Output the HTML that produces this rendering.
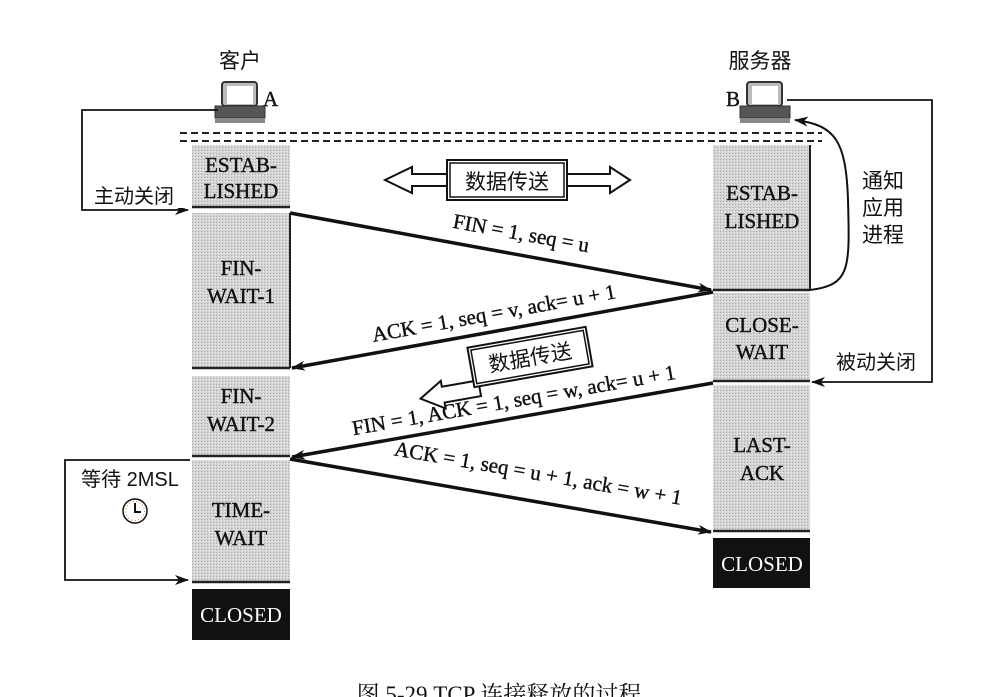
<!DOCTYPE html>
<html><head><meta charset="utf-8"><style>
html,body{margin:0;padding:0;background:#fff;}
svg{display:block}
text{font-family:"Liberation Serif","Noto Serif CJK SC",serif;fill:#111}
.cj{font-family:"Liberation Sans","Noto Sans CJK SC",sans-serif}
.b{stroke:#111;stroke-width:0.4}
</style></head><body>
<svg width="999" height="697" viewBox="0 0 999 697" xmlns="http://www.w3.org/2000/svg">
<defs>
<pattern id="g" width="3" height="3" patternUnits="userSpaceOnUse"><rect width="3" height="3" fill="#d4d4d4"/><rect width="1" height="1" fill="#aaa"/><rect x="2" y="1" width="1" height="1" fill="#eee"/></pattern>
<marker id="ah" markerWidth="14" markerHeight="10" refX="13" refY="5" orient="auto" markerUnits="userSpaceOnUse"><path d="M0,0 L14,5 L0,10 L4,5z" fill="#111"/></marker>
</defs>
<text x="240" y="68" font-size="21" text-anchor="middle" class="cj">客户</text>
<text x="760" y="68" font-size="21" text-anchor="middle" class="cj">服务器</text>
<g>
<rect x="222" y="82" width="35" height="24" rx="3" fill="#bbb" stroke="#333" stroke-width="2"/>
<rect x="227" y="86" width="26" height="18" fill="#fff"/>
<rect x="215" y="106" width="50" height="12" fill="#555" stroke="#333"/>
<rect x="215" y="118" width="50" height="5" fill="#888"/>
<text x="263" y="106" font-size="21" class="b">A</text>
</g>
<g>
<rect x="747" y="82" width="35" height="24" rx="3" fill="#bbb" stroke="#333" stroke-width="2"/>
<rect x="752" y="86" width="26" height="18" fill="#fff"/>
<rect x="740" y="106" width="50" height="12" fill="#555" stroke="#333"/>
<rect x="740" y="118" width="50" height="5" fill="#888"/>
<text x="726" y="106" font-size="21" class="b">B</text>
</g>
<line x1="180" y1="133" x2="822" y2="133" stroke="#222" stroke-width="2" stroke-dasharray="7,4"/>
<line x1="180" y1="141" x2="822" y2="141" stroke="#222" stroke-width="2" stroke-dasharray="7,4"/>
<rect x="192" y="145" width="98" height="62" fill="url(#g)"/>
<line x1="192" y1="207" x2="290" y2="207" stroke="#222" stroke-width="2.5"/>
<rect x="192" y="213" width="98" height="155" fill="url(#g)"/>
<line x1="290" y1="213" x2="290" y2="368" stroke="#222" stroke-width="2"/>
<line x1="192" y1="368" x2="290" y2="368" stroke="#222" stroke-width="2.5"/>
<rect x="192" y="376" width="98" height="80" fill="url(#g)"/>
<line x1="192" y1="456" x2="290" y2="456" stroke="#222" stroke-width="2.5"/>
<rect x="192" y="460" width="98" height="122" fill="url(#g)"/>
<line x1="192" y1="582" x2="290" y2="582" stroke="#222" stroke-width="2.5"/>
<rect x="192" y="589" width="98" height="51" fill="#111"/>
<text x="241" y="172" font-size="21" text-anchor="middle" class="b">ESTAB-</text>
<text x="241" y="198" font-size="21" text-anchor="middle" class="b">LISHED</text>
<text x="241" y="275" font-size="21" text-anchor="middle" class="b">FIN-</text>
<text x="241" y="303" font-size="21" text-anchor="middle" class="b">WAIT-1</text>
<text x="241" y="403" font-size="21" text-anchor="middle" class="b">FIN-</text>
<text x="241" y="431" font-size="21" text-anchor="middle" class="b">WAIT-2</text>
<text x="241" y="517" font-size="21" text-anchor="middle" class="b">TIME-</text>
<text x="241" y="545" font-size="21" text-anchor="middle" class="b">WAIT</text>
<text x="241" y="622" font-size="21" text-anchor="middle" style="fill:#fff">CLOSED</text>
<rect x="713" y="145" width="97" height="145" fill="url(#g)"/>
<line x1="810" y1="145" x2="810" y2="290" stroke="#222" stroke-width="2"/>
<line x1="713" y1="290" x2="810" y2="290" stroke="#222" stroke-width="2.5"/>
<rect x="713" y="293" width="97" height="87" fill="url(#g)"/>
<line x1="713" y1="381" x2="810" y2="381" stroke="#222" stroke-width="2.5"/>
<rect x="713" y="385" width="97" height="145" fill="url(#g)"/>
<line x1="713" y1="531" x2="810" y2="531" stroke="#222" stroke-width="2.5"/>
<rect x="713" y="538" width="97" height="50" fill="#111"/>
<text x="762" y="200" font-size="21" text-anchor="middle" class="b">ESTAB-</text>
<text x="762" y="228" font-size="21" text-anchor="middle" class="b">LISHED</text>
<text x="762" y="332" font-size="21" text-anchor="middle" class="b">CLOSE-</text>
<text x="762" y="359" font-size="21" text-anchor="middle" class="b">WAIT</text>
<text x="762" y="452" font-size="21" text-anchor="middle" class="b">LAST-</text>
<text x="762" y="480" font-size="21" text-anchor="middle" class="b">ACK</text>
<text x="762" y="571" font-size="21" text-anchor="middle" style="fill:#fff">CLOSED</text>
<line x1="290" y1="213" x2="711" y2="290" stroke="#111" stroke-width="3.5" marker-end="url(#ah)"/>
<line x1="713" y1="292" x2="292" y2="368" stroke="#111" stroke-width="3.5" marker-end="url(#ah)"/>
<line x1="713" y1="383" x2="292" y2="457" stroke="#111" stroke-width="3.5" marker-end="url(#ah)"/>
<line x1="290" y1="459" x2="711" y2="532" stroke="#111" stroke-width="3.5" marker-end="url(#ah)"/>
<text x="0" y="0" font-size="21" text-anchor="middle" class="b" transform="translate(520,240) rotate(10.3)">FIN = 1, seq = u</text>
<text x="0" y="0" font-size="21" text-anchor="middle" class="b" transform="translate(495,320) rotate(-10.2)">ACK = 1, seq = v, ack= u + 1</text>
<text x="0" y="0" font-size="21" text-anchor="middle" class="b" transform="translate(515,407) rotate(-9.9)">FIN = 1, ACK = 1, seq = w, ack= u + 1</text>
<text x="0" y="0" font-size="21" text-anchor="middle" class="b" transform="translate(537,480) rotate(9.8)">ACK = 1, seq = u + 1, ack = w + 1</text>
<path d="M385,180 L412,167 L412,174 L610,174 L610,167 L630,180 L610,193 L610,186 L412,186 L412,193 Z" fill="#fff" stroke="#111" stroke-width="2"/>
<rect x="447" y="160" width="120" height="40" fill="#fff" stroke="#111" stroke-width="2"/>
<rect x="450" y="163" width="114" height="34" fill="#fff" stroke="#111" stroke-width="1.5"/>
<text x="507" y="189" font-size="21" text-anchor="middle" class="cj">数据传送</text>
<g transform="translate(530,357) rotate(-10)">
<path d="M-115,22 L-92,8 L-92,14 L-55,14 L-55,30 L-92,30 L-92,36 Z" fill="#fff" stroke="#111" stroke-width="2"/>
<rect x="-60" y="-20" width="120" height="40" fill="#fff" stroke="#111" stroke-width="2"/>
<rect x="-57" y="-17" width="114" height="34" fill="#fff" stroke="#111" stroke-width="1.5"/>
<text x="0" y="8" font-size="21" text-anchor="middle" class="cj">数据传送</text>
</g>
<polyline points="218,110 82,110 82,210 188,210" fill="none" stroke="#111" stroke-width="1.8" marker-end="url(#ah)"/>
<rect x="84" y="182" width="100" height="26" fill="#fff"/>
<text x="134" y="203" font-size="20" text-anchor="middle" class="cj">主动关闭</text>
<polyline points="190,460 65,460 65,580 188,580" fill="none" stroke="#111" stroke-width="1.8" marker-end="url(#ah)"/>
<text x="130" y="486" font-size="20" text-anchor="middle" class="cj">等待 2MSL</text>
<circle cx="135" cy="511" r="12" fill="#fff" stroke="#111" stroke-width="1.5"/>
<circle cx="135" cy="511" r="9.5" fill="none" stroke="#d08020" stroke-width="1" stroke-dasharray="1,2.5"/>
<polyline points="135,503 135,512 141,512" fill="none" stroke="#111" stroke-width="2"/>
<polyline points="787,100 932,100 932,382 812,382" fill="none" stroke="#111" stroke-width="1.8" marker-end="url(#ah)"/>
<rect x="826" y="346" width="100" height="28" fill="#fff"/>
<text x="876" y="369" font-size="20" text-anchor="middle" class="cj">被动关闭</text>
<path d="M810,290 C850,285 850,270 848,200 C846,140 835,125 795,120" fill="none" stroke="#111" stroke-width="2" marker-end="url(#ah)"/>
<text x="883" y="188" font-size="21" text-anchor="middle" class="cj">通知</text>
<text x="883" y="215" font-size="21" text-anchor="middle" class="cj">应用</text>
<text x="883" y="242" font-size="21" text-anchor="middle" class="cj">进程</text>
<text x="499" y="702" font-size="23" text-anchor="middle" style="font-family:'Liberation Serif','Noto Serif CJK SC',serif">图 5-29   TCP 连接释放的过程</text>
</svg>
</body></html>
